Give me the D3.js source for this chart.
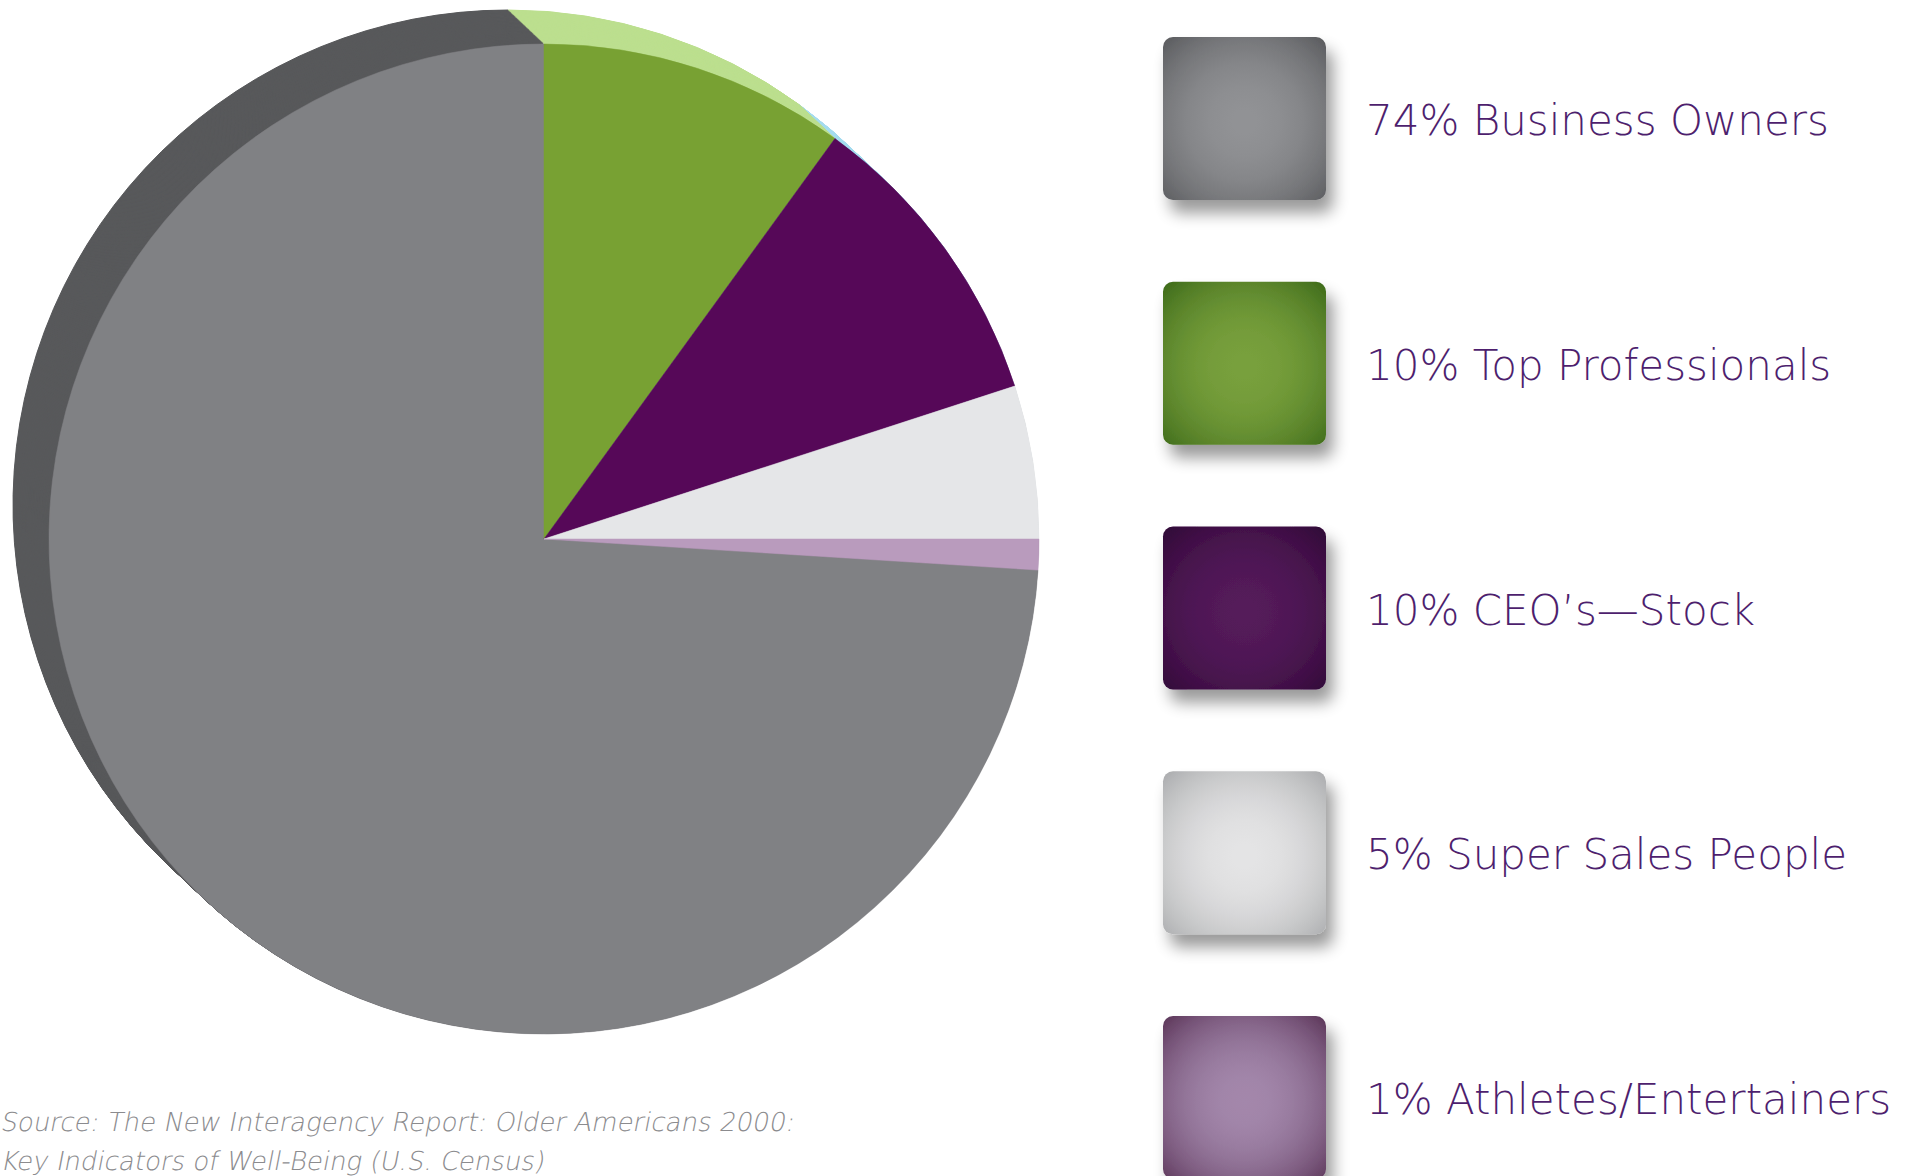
<!DOCTYPE html>
<html><head><meta charset="utf-8">
<script src="https://cdn.jsdelivr.net/npm/d3@7"></script>
<style>html,body{margin:0;padding:0;background:#fff;overflow:hidden}</style>
</head><body>
<svg id="chart" width="1911" height="1176"></svg>
<script>
const categories = ["Business Owners", "Top Professionals", "CEO’s—Stock", "Super Sales People", "Athletes/Entertainers"];
const values = [74, 10, 10, 5, 1];
const labels = ["74% Business Owners", "10% Top Professionals", "10% CEO’s—Stock", "5% Super Sales People", "1% Athletes/Entertainers"];
const sliceColors = ["#808184", "#78a133", "#560858", "#e5e6e8", "#b99bbd"];
const sideColors = ["#58595b", "#bcdf8f", "#a6dcef", "#c9cacc", "#9c7fa0"];
const swatchCenter = ["#919295", "#78a03c", "#541b5a", "#e4e4e5", "#a387ab"];
const swatchEdge = ["#58595c", "#3c6819", "#2e0535", "#a9aaac", "#5a3457"];
const sourceLines = ["Source: The New Interagency Report: Older Americans 2000:", "Key Indicators of Well-Being (U.S. Census)"];

const svg = d3.select("#chart");
const defs = svg.append("defs");

const cx = 544, cy = 539, r = 495;
const depthX = -36, depthY = -34, steps = 60;

const total = d3.sum(values);
const start = -(values[0] / total) * 2 * Math.PI;
const pie = d3.pie().sort(null).value(d => d).startAngle(start).endAngle(start + 2 * Math.PI);
const arcs = pie(values);
const arc = d3.arc().innerRadius(0).outerRadius(r);

const pieG = svg.append("g");
for (let s = steps; s >= 1; s--) {
  const t = s / steps;
  pieG.append("g")
    .attr("transform", `translate(${cx + depthX * t},${cy + depthY * t})`)
    .selectAll("path").data(arcs).join("path")
    .attr("d", arc)
    .attr("fill", (d, i) => sideColors[i])
    .attr("stroke", (d, i) => sideColors[i])
    .attr("stroke-width", 1);
}
pieG.append("g")
  .attr("transform", `translate(${cx},${cy})`)
  .selectAll("path").data(arcs).join("path")
  .attr("d", arc)
  .attr("fill", (d, i) => sliceColors[i])
  .attr("stroke", (d, i) => sliceColors[i])
  .attr("stroke-width", 0.5);

// legend
const filter = defs.append("filter").attr("id", "ds").attr("x", "-30%").attr("y", "-30%").attr("width", "170%").attr("height", "170%");
filter.append("feGaussianBlur").attr("in", "SourceAlpha").attr("stdDeviation", 8).attr("result", "b");
filter.append("feOffset").attr("in", "b").attr("dx", 7).attr("dy", 13).attr("result", "o");
filter.append("feComponentTransfer").attr("in", "o").attr("result", "o2")
  .append("feFuncA").attr("type", "linear").attr("slope", 0.4);
const fm = filter.append("feMerge");
fm.append("feMergeNode").attr("in", "o2");
fm.append("feMergeNode").attr("in", "SourceGraphic");

categories.forEach((c, i) => {
  const g = defs.append("radialGradient").attr("id", "sw" + i).attr("cx", "50%").attr("cy", "52%").attr("r", "72%");
  const mid = d3.interpolateRgb(swatchCenter[i], swatchEdge[i]);
  d3.range(0, 1.0001, 0.1).forEach(t => {
    g.append("stop").attr("offset", (t * 100) + "%").attr("stop-color", mid(Math.pow(t, 2.2)));
  });
});

const legendY = d3.scalePoint().domain(categories).range([37, 1016]);
const sw = 163;
const leg = svg.append("g").selectAll("g").data(categories).join("g")
  .attr("transform", d => `translate(1163,${legendY(d)})`);
leg.append("rect").attr("width", sw).attr("height", sw).attr("rx", 10).attr("ry", 10)
  .attr("fill", (d, i) => `url(#sw${i})`).attr("filter", "url(#ds)");
leg.append("text").attr("x", 203).attr("y", 98)
  .attr("font-family", "'DejaVu Sans', sans-serif").attr("font-weight", 200)
  .attr("font-size", 42).attr("fill", "#4e1f6e")
  .text((d, i) => labels[i]);

svg.append("g").selectAll("g").data(sourceLines).join("g")
  .attr("transform", (d, i) => `translate(0,${1131 + i * 39})`)
  .append("text").attr("x", 0).attr("y", 0)
  .attr("transform", "skewX(-11)")
  .attr("font-family", "'DejaVu Sans', sans-serif").attr("font-weight", 200)
  .attr("font-size", 26).attr("fill", "#8b8b8e")
  .text(d => d);
</script>
</body></html>
